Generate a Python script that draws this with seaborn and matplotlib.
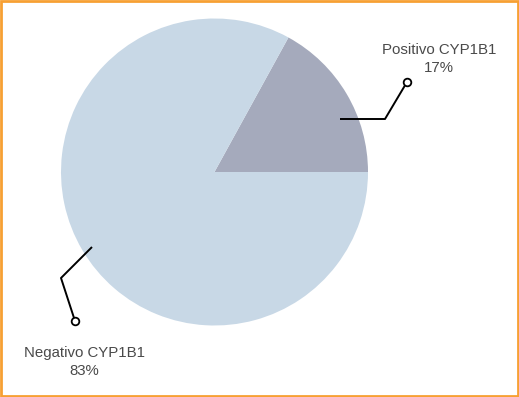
import matplotlib
matplotlib.use("Agg")
import matplotlib.pyplot as plt
import seaborn as sns
from matplotlib.patches import Rectangle

sns.set_theme(style="white")
plt.rcParams['font.family'] = ['Liberation Sans', 'DejaVu Sans']

labels = ['Positivo CYP1B1', 'Negativo CYP1B1']
values = [17, 83]
colors = ['#a5aabc', '#c8d8e6']

fig = plt.figure(figsize=(5.19, 3.97), dpi=100)
ax = fig.add_axes([0, 0, 1, 1])

ax.pie(values, colors=colors, startangle=0, counterclock=True,
       center=(214.5, 225), radius=153.5, frame=True,
       wedgeprops=dict(linewidth=0))
ax.set_xlim(0, 519)
ax.set_ylim(0, 397)
ax.set_aspect('equal')
ax.axis('off')

# leader lines (pixel-ish layout coords, y measured from bottom)
leaders = [
    [(340, 278), (385, 278), (407, 315)],
    [(92, 150), (61, 119), (75, 76)],
]
for pts in leaders:
    xs, ys = zip(*pts)
    ax.plot(xs, ys, color='black', lw=1.4, solid_capstyle='butt', zorder=3)
    ax.plot(xs[-1], ys[-1], 'o', ms=5.5, mfc='white', mec='black', mew=1.3, zorder=4)

text_pos = [(439, 338), (84, 35)]
for (x, y), lab, v in zip(text_pos, labels, values):
    ax.text(x, y, f"{lab}\n{v}%", ha='center', va='center', fontsize=10.8,
            color='#4a4a4a', linespacing=1.3)

fig.patches.append(Rectangle((0.002, 0.003), 0.996, 0.994, transform=fig.transFigure,
                             fill=False, edgecolor='#f7a033', linewidth=2))

fig.savefig('out.png', dpi=100)
